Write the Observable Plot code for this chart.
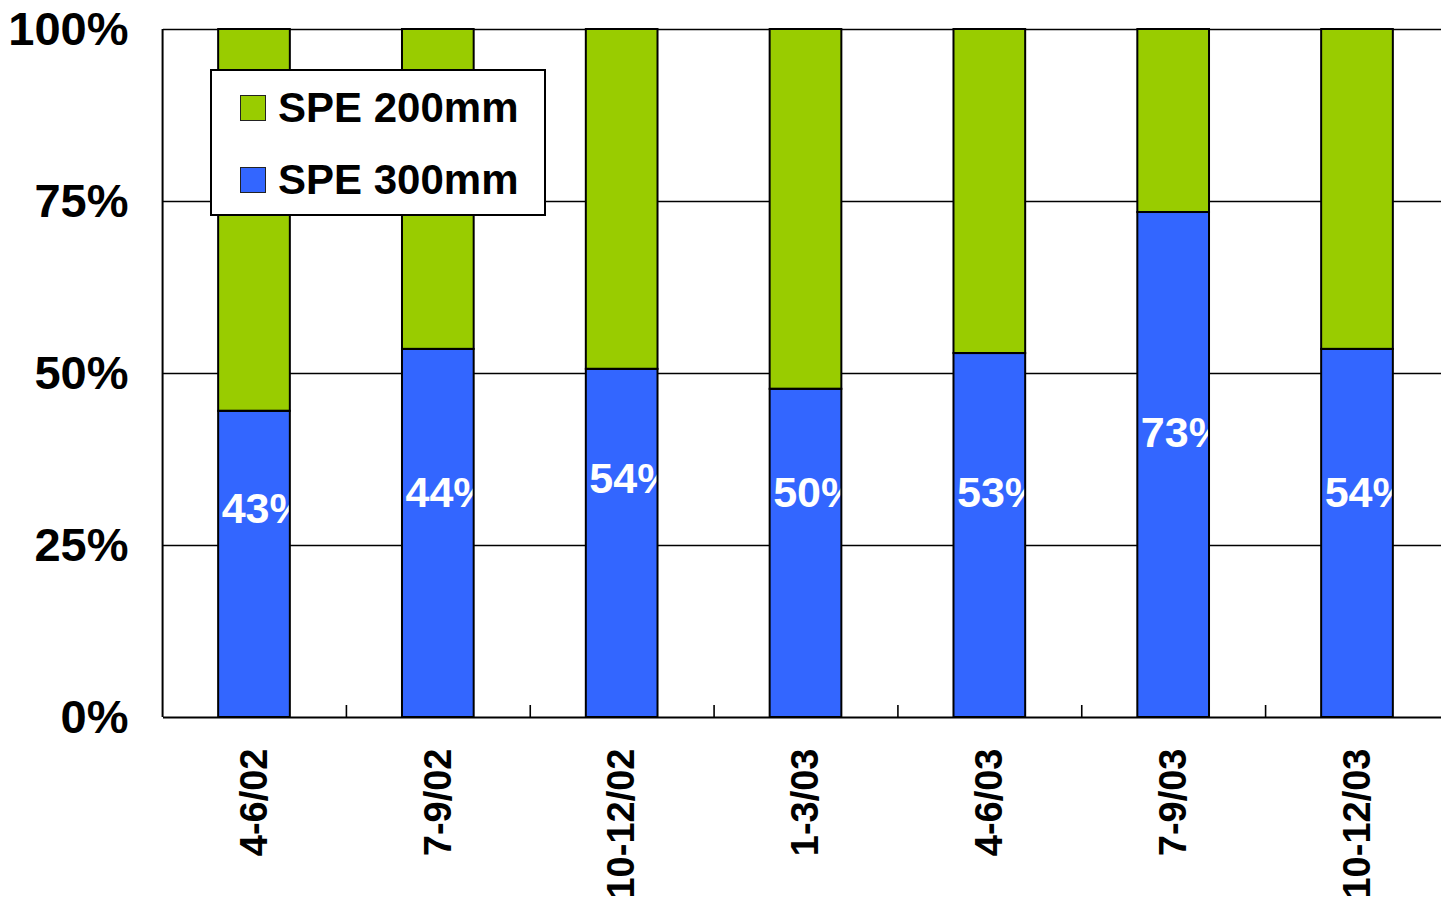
<!DOCTYPE html>
<html>
<head>
<meta charset="utf-8">
<script src="https://cdn.jsdelivr.net/npm/d3@7"></script>
<script src="https://cdn.jsdelivr.net/npm/@observablehq/plot@0.6"></script>
<style>
  html, body { margin: 0; padding: 0; background: #fff; overflow: hidden; }
  #wrap { position: relative; width: 1441px; height: 902px; }
  #legend { position: absolute; left: 210px; top: 69px; width: 332px; height: 143px;
            border: 2px solid #000; background: #fff; font-family: "Liberation Sans", Arial, sans-serif;
            font-weight: bold; font-size: 42px; color: #000; }
  .item { position: absolute; left: 28px; display: flex; align-items: center; }
  .sw { width: 24px; height: 24px; border: 1.5px solid #222; margin-right: 12px; }
</style>
</head>
<body>
<div id="wrap"><div id="legend"></div></div>
<script>
const categories = ["4-6/02", "7-9/02", "10-12/02", "1-3/03", "4-6/03", "7-9/03", "10-12/03"];
const spe300 = [44.5, 53.5, 50.6, 47.7, 52.9, 73.4, 53.5];
const spe200 = [55.5, 46.5, 49.4, 52.3, 47.1, 26.6, 46.5];
const barLabels = ["43%", "44%", "54%", "50%", "53%", "73%", "54%"];
const labelAt = [30.2, 32.6, 34.7, 32.6, 32.6, 41.3, 32.6];
const seriesNames = ["SPE 200mm", "SPE 300mm"];
const seriesColors = ["#99CC00", "#3366FF"];
const yTicks = [0, 25, 50, 75, 100];

const rows = [];
categories.forEach((c, i) => {
  rows.push({cat: c, series: "SPE 300mm", value: spe300[i]});
  rows.push({cat: c, series: "SPE 200mm", value: spe200[i]});
});

const W = 1441, H = 902, mL = 163, mR = -7, mT = 29, mB = 185;
const pIn = 0.61, pOut = 0.30;
const step = (W - mL - mR) / (categories.length - pIn + 2 * pOut);
const bw = step * (1 - pIn);
const font = "Liberation Sans, Arial, sans-serif";

const stackOpts = {x: "cat", y: "value", z: "series", order: ["SPE 300mm", "SPE 200mm"]};

const plot = Plot.plot({
  width: W, height: H,
  marginLeft: mL, marginRight: mR, marginTop: mT, marginBottom: mB,
  style: {fontFamily: font, background: "#fff", overflow: "hidden"},
  x: {domain: categories, paddingInner: pIn, paddingOuter: pOut, align: 0.5, round: false, label: null},
  y: {domain: [0, 100], label: null},
  color: {domain: seriesNames, range: seriesColors},
  marks: [
    Plot.gridY(yTicks.slice(1), {stroke: "#000", strokeOpacity: 1, strokeWidth: 1.6}),
    Plot.barY(rows, Plot.stackY({...stackOpts, fill: "series"})),
    Plot.text(categories, {x: d => d, y: (d, i) => labelAt[i], text: (d, i) => barLabels[i],
      fill: "#fff", fontSize: 43, fontWeight: "bold", textAnchor: "start", dx: -bw / 2 + 3}),
    Plot.barY(rows, Plot.stackY({...stackOpts, fill: "none", stroke: "#000", strokeWidth: 2})),
    Plot.ruleX([categories[0]], {x: d => d, dx: -step / 2, y1: 0, y2: 100, stroke: "#000", strokeWidth: 2}),
    Plot.ruleX(categories.slice(1), {x: d => d, dx: -step / 2, y1: 0, y2: 0, insetTop: -12, stroke: "#000", strokeWidth: 1.6}),
    Plot.ruleY([0], {stroke: "#000", strokeWidth: 2}),
    Plot.axisY({ticks: yTicks, tickFormat: d => d + "%", tickSize: 0, tickPadding: 35,
      fontSize: 47, fontWeight: "bold", fill: "#000", label: null}),
    Plot.axisX({tickSize: 0, tickRotate: -90, tickPadding: 31, fontSize: 38, fontWeight: "bold",
      fill: "#000", label: null})
  ]
});
document.getElementById("wrap").prepend(plot);

const legend = document.getElementById("legend");
seriesNames.forEach((s, i) => {
  const it = document.createElement("div");
  it.className = "item";
  it.style.top = (i === 0 ? 13 : 85) + "px";
  const sw = document.createElement("div");
  sw.className = "sw";
  sw.style.background = seriesColors[i];
  const t = document.createElement("span");
  t.textContent = s;
  it.appendChild(sw); it.appendChild(t);
  legend.appendChild(it);
});
</script>
</body>
</html>
